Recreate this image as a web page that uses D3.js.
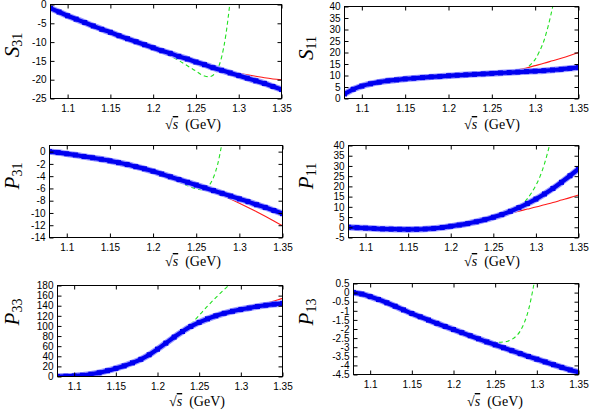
<!DOCTYPE html>
<html>
<head>
<meta charset="utf-8">
<script src="https://cdn.jsdelivr.net/npm/d3@7"></script>
<style>
  body { margin: 0; background: #fff; }
  text { font-family: "Liberation Sans", Arial, sans-serif; }
</style>
</head>
<body>
<svg id="fig" width="590" height="410"></svg>
<script>
// shared x ticks (sqrt(s) in GeV)
const xDomain = [1.08, 1.35];
const xTicks = [1.1, 1.15, 1.2, 1.25, 1.3, 1.35];

// S31
const s31Ticks = [0, -5, -10, -15, -20, -25];
const s31Blue = [[1.08,-1.0],[1.09,-2.0],[1.10,-3.0],[1.11,-3.9],[1.12,-4.8],[1.13,-5.7],[1.14,-6.6],[1.15,-7.4],[1.16,-8.3],[1.17,-9.1],[1.18,-9.9],[1.19,-10.7],[1.20,-11.5],[1.21,-12.3],[1.22,-13.0],[1.23,-13.8],[1.24,-14.5],[1.25,-15.3],[1.26,-16.0],[1.27,-16.8],[1.28,-17.5],[1.29,-18.2],[1.30,-18.9],[1.31,-19.6],[1.32,-20.3],[1.33,-21.0],[1.34,-21.8],[1.35,-22.6]];
const s31Red = [[1.20,-11.5],[1.22,-13.0],[1.24,-14.5],[1.26,-16.0],[1.27,-16.7],[1.28,-17.3],[1.29,-17.8],[1.30,-18.3],[1.31,-18.7],[1.32,-19.1],[1.33,-19.5],[1.34,-19.8],[1.35,-20.0]];
const s31Green = [[1.08,-1.0],[1.10,-3.0],[1.12,-4.8],[1.14,-6.5],[1.15,-7.2],[1.16,-7.9],[1.17,-8.6],[1.18,-9.5],[1.19,-10.5],[1.20,-11.6],[1.21,-12.6],[1.22,-13.7],[1.23,-14.9],[1.24,-16.3],[1.25,-17.7],[1.255,-18.5],[1.26,-19.0],[1.265,-19.2],[1.27,-18.8],[1.275,-17.3],[1.28,-14.0],[1.285,-8.0],[1.29,1.0]];

// S11
const s11Ticks = [0, 5, 10, 15, 20, 25, 30, 35, 40];
const s11Blue = [[1.08,2.0],[1.09,4.0],[1.10,5.4],[1.11,6.4],[1.12,7.1],[1.13,7.7],[1.14,8.1],[1.15,8.5],[1.16,8.8],[1.17,9.1],[1.18,9.4],[1.19,9.6],[1.20,9.9],[1.21,10.1],[1.22,10.3],[1.23,10.5],[1.24,10.7],[1.25,10.9],[1.26,11.1],[1.27,11.3],[1.28,11.5],[1.29,11.7],[1.30,11.9],[1.31,12.1],[1.32,12.4],[1.33,12.7],[1.34,13.1],[1.35,13.5]];
const s11Red = [[1.20,9.9],[1.22,10.3],[1.24,10.7],[1.25,10.95],[1.26,11.3],[1.27,11.8],[1.28,12.5],[1.29,13.3],[1.30,14.3],[1.31,15.3],[1.32,16.4],[1.33,17.5],[1.34,18.7],[1.35,20.0]];
const s11Green = [[1.08,2.0],[1.10,5.4],[1.12,7.1],[1.14,8.1],[1.16,8.8],[1.18,9.4],[1.20,9.8],[1.22,10.1],[1.24,10.3],[1.26,10.4],[1.27,10.6],[1.28,11.2],[1.285,12.0],[1.29,13.2],[1.295,14.8],[1.30,17.0],[1.305,20.5],[1.31,25.0],[1.315,31.5],[1.32,39.5],[1.325,49]];

// P31
const p31Ticks = [0, -2, -4, -6, -8, -10, -12, -14];
const p31Blue = [[1.08,0],[1.09,-0.15],[1.10,-0.35],[1.11,-0.55],[1.12,-0.8],[1.13,-1.0],[1.14,-1.25],[1.15,-1.5],[1.16,-1.8],[1.17,-2.1],[1.18,-2.45],[1.19,-2.8],[1.20,-3.2],[1.21,-3.65],[1.22,-4.1],[1.23,-4.55],[1.24,-5.0],[1.25,-5.45],[1.26,-5.9],[1.27,-6.35],[1.28,-6.8],[1.29,-7.25],[1.30,-7.7],[1.31,-8.15],[1.32,-8.65],[1.33,-9.1],[1.34,-9.6],[1.35,-10.1]];
const p31Red = [[1.20,-3.2],[1.22,-4.1],[1.24,-5.0],[1.26,-5.95],[1.28,-7.1],[1.30,-8.4],[1.32,-9.8],[1.34,-11.3],[1.35,-12.1]];
const p31Green = [[1.08,0],[1.10,-0.35],[1.12,-0.8],[1.14,-1.2],[1.16,-1.7],[1.17,-2.0],[1.18,-2.35],[1.19,-2.75],[1.20,-3.2],[1.21,-3.7],[1.22,-4.3],[1.23,-4.9],[1.24,-5.55],[1.25,-6.05],[1.255,-6.2],[1.26,-6.1],[1.265,-5.5],[1.27,-4.2],[1.275,-2.0],[1.28,1.5]];

// P11
const p11Ticks = [-5, 0, 5, 10, 15, 20, 25, 30, 35, 40];
const p11Blue = [[1.08,0],[1.09,-0.2],[1.10,-0.4],[1.11,-0.6],[1.12,-0.8],[1.13,-0.9],[1.14,-1.0],[1.15,-1.05],[1.16,-1.0],[1.17,-0.85],[1.18,-0.55],[1.19,-0.1],[1.20,0.5],[1.21,1.1],[1.22,1.8],[1.23,2.7],[1.24,3.7],[1.25,4.9],[1.26,6.2],[1.27,7.8],[1.28,9.6],[1.29,11.6],[1.30,13.8],[1.31,16.3],[1.32,19.0],[1.33,22.0],[1.34,25.2],[1.35,28.5]];
const p11Red = [[1.20,0.5],[1.22,1.8],[1.24,3.7],[1.25,4.8],[1.26,5.9],[1.27,6.9],[1.28,7.9],[1.29,8.9],[1.30,9.9],[1.31,11.0],[1.32,12.1],[1.33,13.3],[1.34,14.5],[1.35,15.8]];
const p11Green = [[1.08,0],[1.12,-0.8],[1.16,-1.0],[1.20,0.5],[1.24,3.7],[1.26,6.2],[1.27,7.8],[1.28,9.7],[1.285,11.5],[1.29,14.0],[1.295,17.0],[1.30,20.5],[1.305,25.0],[1.31,31.0],[1.315,38.5],[1.32,47]];

// P33
const p33Ticks = [0, 20, 40, 60, 80, 100, 120, 140, 160, 180];
const p33Blue = [[1.08,0],[1.09,0.5],[1.10,1.2],[1.11,2.5],[1.12,4.5],[1.13,7.5],[1.14,11.5],[1.15,16],[1.16,21],[1.17,27],[1.18,34],[1.19,43],[1.20,54],[1.21,66],[1.22,78],[1.23,89],[1.24,99],[1.25,107],[1.26,114],[1.27,120],[1.28,125],[1.29,129],[1.30,132.5],[1.31,135.5],[1.32,138.5],[1.33,141],[1.34,143],[1.35,144.5]];
const p33Red = [[1.26,114],[1.28,125],[1.30,133],[1.31,136.5],[1.32,140.5],[1.33,144.5],[1.34,149.5],[1.35,154.5]];
const p33Green = [[1.08,0],[1.12,4.5],[1.16,21],[1.18,34],[1.19,42],[1.20,51],[1.21,61],[1.22,73],[1.23,87],[1.24,103],[1.25,121],[1.26,139],[1.27,156],[1.28,172],[1.29,187]];

// P13
const p13Ticks = [0.5, 0, -0.5, -1, -1.5, -2, -2.5, -3, -3.5, -4, -4.5];
const p13Blue = [[1.08,0],[1.09,-0.08],[1.10,-0.22],[1.11,-0.38],[1.12,-0.56],[1.13,-0.75],[1.14,-0.95],[1.15,-1.15],[1.16,-1.33],[1.17,-1.51],[1.18,-1.69],[1.19,-1.86],[1.20,-2.03],[1.21,-2.2],[1.22,-2.37],[1.23,-2.54],[1.24,-2.71],[1.25,-2.87],[1.26,-3.03],[1.27,-3.19],[1.28,-3.35],[1.29,-3.51],[1.30,-3.66],[1.31,-3.81],[1.32,-3.96],[1.33,-4.11],[1.34,-4.25],[1.35,-4.38]];
const p13Red = [[1.20,-2.03],[1.24,-2.71],[1.26,-3.02],[1.28,-3.32],[1.30,-3.62],[1.32,-3.92],[1.34,-4.21],[1.35,-4.35]];
const p13Green = [[1.08,0],[1.12,-0.55],[1.16,-1.32],[1.20,-2.02],[1.22,-2.35],[1.23,-2.5],[1.24,-2.62],[1.245,-2.68],[1.25,-2.72],[1.255,-2.73],[1.26,-2.71],[1.265,-2.67],[1.27,-2.57],[1.275,-2.4],[1.28,-2.12],[1.285,-1.65],[1.29,-0.95],[1.295,0.1],[1.30,1.4]];

const svg = d3.select('#fig');

// box = [left, right, top, bottom] in px; ylab/xlab = label anchors
const panels = [
  { name: 'S', sub: '31', y: [-25, 0], ticks: s31Ticks, blue: s31Blue, red: s31Red, green: s31Green,
    box: [50, 281, 4, 98], ylab: [19, 45], xlab: [193, 129] },
  { name: 'S', sub: '11', y: [0, 40], ticks: s11Ticks, blue: s11Blue, red: s11Red, green: s11Green,
    box: [344, 578, 6, 98], ylab: [313, 48], xlab: [492, 129] },
  { name: 'P', sub: '31', y: [-14, 1], ticks: p31Ticks, blue: p31Blue, red: p31Red, green: p31Green,
    box: [49, 282, 145, 237], ylab: [19, 176], xlab: [193, 266] },
  { name: 'P', sub: '11', y: [-5, 40], ticks: p11Ticks, blue: p11Blue, red: p11Red, green: p11Green,
    box: [348, 578, 145, 237], ylab: [313, 176], xlab: [492, 266] },
  { name: 'P', sub: '33', y: [0, 180], ticks: p33Ticks, blue: p33Blue, red: p33Red, green: p33Green,
    box: [57, 282, 285, 376], ylab: [19, 312], xlab: [197, 406] },
  { name: 'P', sub: '13', y: [-4.5, 0.5], ticks: p13Ticks, blue: p13Blue, red: p13Red, green: p13Green,
    box: [353, 578, 283, 374], ylab: [313, 312], xlab: [495, 406] }
];

panels.forEach((p, i) => {
  const [l, r, t, b] = p.box;
  const w = r - l, h = b - t;
  const x = d3.scaleLinear().domain(xDomain).range([0, w]);
  const y = d3.scaleLinear().domain(p.y).range([h, 0]);

  const g = svg.append('g').attr('transform', `translate(${l + 0.5},${t + 0.5})`);

  g.append('clipPath').attr('id', 'clip' + i)
    .append('rect').attr('width', w).attr('height', h);

  const line = d3.line().x(d => x(d[0])).y(d => y(d[1])).curve(d3.curveMonotoneX);
  const plot = g.append('g').attr('clip-path', `url(#clip${i})`);

  plot.append('path').datum(p.green).attr('d', line)
    .attr('fill', 'none').attr('stroke', '#22e022').attr('stroke-width', 1.1)
    .attr('stroke-dasharray', '4,3');
  plot.append('path').datum(p.red).attr('d', line)
    .attr('fill', 'none').attr('stroke', '#ff1a1a').attr('stroke-width', 1.1);
  // blue: thick line of points
  plot.append('path').datum(p.blue).attr('d', line)
    .attr('fill', 'none').attr('stroke', '#9a9aff').attr('stroke-width', 6.5);
  plot.append('path').datum(p.blue).attr('d', line)
    .attr('fill', 'none').attr('stroke', '#0000f0').attr('stroke-width', 4.2);
  plot.selectAll('rect.pt').data(p.blue).join('rect').attr('class', 'pt')
    .attr('x', d => x(d[0]) - 2.5).attr('y', d => y(d[1]) - 2.5)
    .attr('width', 5).attr('height', 5).attr('fill', '#0000f0');

  // axes, ticks pointing inward on all sides
  const fmt = v => String(v);
  g.append('g').attr('transform', `translate(0,${h})`)
    .call(d3.axisBottom(x).tickValues(xTicks).tickFormat(fmt).tickSizeInner(-4).tickSizeOuter(0).tickPadding(6))
    .call(a => a.select('.domain').remove());
  g.append('g')
    .call(d3.axisTop(x).tickValues(xTicks).tickFormat('').tickSizeInner(-4).tickSizeOuter(0))
    .call(a => a.select('.domain').remove());
  g.append('g')
    .call(d3.axisLeft(y).tickValues(p.ticks).tickFormat(fmt).tickSizeInner(-4).tickSizeOuter(0).tickPadding(4))
    .call(a => a.select('.domain').remove());
  g.append('g').attr('transform', `translate(${w},0)`)
    .call(d3.axisRight(y).tickValues(p.ticks).tickFormat('').tickSizeInner(-4).tickSizeOuter(0))
    .call(a => a.select('.domain').remove());
  g.selectAll('.tick text').attr('font-size', 10).attr('font-family', '"Liberation Sans", Arial, sans-serif').attr('fill', '#000');
  g.selectAll('.tick line').attr('stroke', '#000');

  g.append('rect').attr('width', w).attr('height', h)
    .attr('fill', 'none').attr('stroke', '#000').attr('stroke-width', 1);

  // y label, rotated
  const yl = svg.append('text')
    .attr('transform', `translate(${p.ylab[0]},${p.ylab[1]}) rotate(-90)`)
    .attr('text-anchor', 'middle')
    .style('font-family', '"Liberation Serif", "DejaVu Serif", serif');
  yl.append('tspan').attr('font-size', 21).attr('font-style', 'italic').text(p.name);
  yl.append('tspan').attr('font-size', 14).attr('dy', 3).text(p.sub);

  // x label
  const xl = svg.append('text')
    .attr('x', p.xlab[0]).attr('y', p.xlab[1])
    .attr('text-anchor', 'middle')
    .style('font-family', '"Liberation Serif", "DejaVu Serif", serif')
    .attr('font-size', 14);
  xl.append('tspan').text('\u221A');
  xl.append('tspan').attr('font-style', 'italic').style('text-decoration', 'overline').text('s');
  xl.append('tspan').text('\u2002(GeV)');
});
</script>
</body>
</html>
